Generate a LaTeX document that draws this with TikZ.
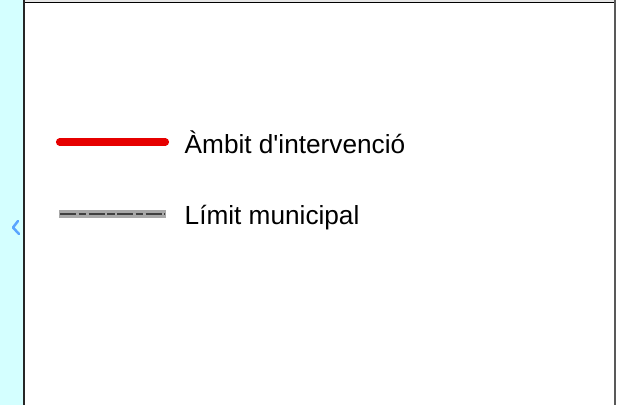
\documentclass[tikz,border=0pt]{standalone}
\usepackage{fontspec}
\setmainfont{Liberation Sans}[Ligatures=TeXOff]

\definecolor{sidecyan}{RGB}{212,255,255}
\definecolor{ambitred}{RGB}{230,0,0}
\definecolor{bandgray}{RGB}{168,168,168}
\definecolor{dashgray}{RGB}{64,64,64}
\definecolor{markblue}{RGB}{90,165,255}

\begin{document}
\begin{tikzpicture}[x=1pt,y=-1pt]
  \tikzstyle{every node}=[font=\fontsize{26.2}{31}\selectfont]
  \tikzstyle{legendtext}=[anchor=base west,inner sep=0pt]
  \tikzstyle{ambitline}=[draw=ambitred,line width=7.5pt,line cap=round]
  \tikzstyle{limitband}=[draw=bandgray,line width=7.5pt]
  \tikzstyle{limitdash}=[draw=dashgray,line width=2.5pt,dash pattern=on 16pt off 2.5pt on 7.5pt off 2.5pt]
  \useasboundingbox (0,0) rectangle (620,405);
  % frame
  \fill[sidecyan] (0,0) rectangle (23,405);
  \fill[gray!20] (23,0) rectangle (615,2);
  \draw[line width=1.2pt] (23,2.6) -- (614,2.6);
  \draw[black!85,line width=2pt] (23.8,0) -- (23.8,405);
  \draw[black!65,line width=2.6pt] (615,0) -- (615,405);
  \draw[markblue,line width=2.5pt,line cap=round,line join=round] (18,221) -- (13,227.5) -- (19,234);
  % legend
  \coordinate (ambitA) at (59.7,142);
  \coordinate (ambitB) at (165.3,142);
  \draw[ambitline] (ambitA) -- (ambitB);
  \node[legendtext] (ambit) at (184.5,153.5) {Àmbit d'intervenció};
  \coordinate (limitA) at (59,213.8);
  \coordinate (limitB) at (166,213.8);
  \draw[limitband] (limitA) -- (limitB);
  \draw[limitdash] ([xshift=1pt]limitA) -- ([xshift=-1pt]limitB);
  \node[legendtext] (limit) at (184.5,224.5) {Límit municipal};
\end{tikzpicture}
\end{document}
